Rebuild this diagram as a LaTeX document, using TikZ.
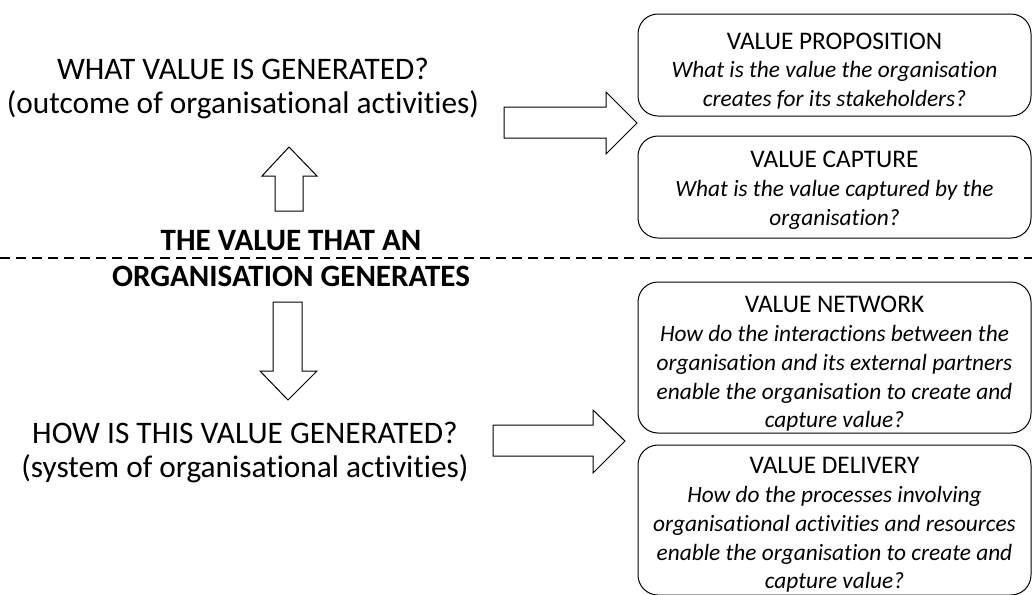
\documentclass[tikz,border=0pt]{standalone}
\usepackage{fontspec}
\setmainfont{Carlito}[Ligatures=NoCommon]

\begin{document}
\begin{tikzpicture}[x=0.75pt,y=-0.75pt,line width=0.75pt,
  every node/.style={inner sep=0pt,align=center},
  question/.style={font=\fontsize{23.5pt}{25.5pt}\selectfont},
  divider/.style={font=\fontsize{23.3pt}{27.75pt}\selectfont\bfseries},
  valuebox/.style={draw,rounded corners=15pt,minimum width=294.75pt},
  boxtext/.style={font=\fontsize{17.5pt}{21.6pt}\selectfont},
  blockarrow/.style={draw,fill=white,line join=miter}]
  \newcommand\boxtitle[1]{{\fontsize{19pt}{21.6pt}\selectfont #1}}
  \useasboundingbox (0,0) rectangle (1032,594);
  % dividing line between the two halves
  \coordinate (L) at (0,258);
  \coordinate (R) at (1032,258);
  \draw[line width=0.9pt,dash pattern=on 7.5pt off 4.5pt] (L) -- (R);
  % left column
  \node[question] (what) at (243,88)
    {WHAT VALUE IS GENERATED?\\(outcome of organisational activities)};
  \node[divider] (mid) at (291,258.5)
    {THE VALUE THAT AN\\[-1pt]ORGANISATION GENERATES};
  \node[question] (how) at (245,452)
    {HOW IS THIS VALUE GENERATED?\\(system of organisational activities)};
  % right column: frames
  \node[valuebox,minimum height=76.5pt]   (prop) at (834.5,65) {};
  \node[valuebox,minimum height=76.5pt]   (capt) at (834.5,187) {};
  \node[valuebox,minimum height=113.25pt] (netw) at (834.5,357.5) {};
  \node[valuebox,minimum height=112.5pt]  (deli) at (834.5,520) {};
  % right column: texts
  \node[boxtext] (proptext) at (834.5,71)
    {\boxtitle{VALUE PROPOSITION}\\\textit{What is the value the organisation}\\\textit{creates for its stakeholders?}};
  \node[boxtext] (capttext) at (834.5,190.5)
    {\boxtitle{VALUE CAPTURE}\\\textit{What is the value captured by the}\\\textit{organisation?}};
  \node[boxtext] (netwtext) at (834.5,364)
    {\boxtitle{VALUE NETWORK}\\\textit{How do the interactions between the}\\\textit{organisation and its external partners}\\\textit{enable the organisation to create and}\\\textit{capture value?}};
  \node[boxtext] (delitext) at (834.5,525)
    {\boxtitle{VALUE DELIVERY}\\\textit{How do the processes involving}\\\textit{organisational activities and resources}\\\textit{enable the organisation to create and}\\\textit{capture value?}};
  % block arrows
  \draw[blockarrow] (275,211) -- (275,176) -- (262,176) -- (289,147)
    -- (317,176) -- (303,176) -- (303,211) -- cycle;
  \draw[blockarrow] (273,302) -- (273,371) -- (260,371) -- (288,400)
    -- (317,371) -- (302,371) -- (302,302) -- cycle;
  \draw[blockarrow] (504,107) -- (606,107) -- (606,92) -- (637,123)
    -- (606,154) -- (606,138) -- (504,138) -- cycle;
  \draw[blockarrow] (493,425) -- (593,425) -- (593,410) -- (625,441)
    -- (593,473) -- (593,456) -- (493,456) -- cycle;
\end{tikzpicture}
\end{document}
